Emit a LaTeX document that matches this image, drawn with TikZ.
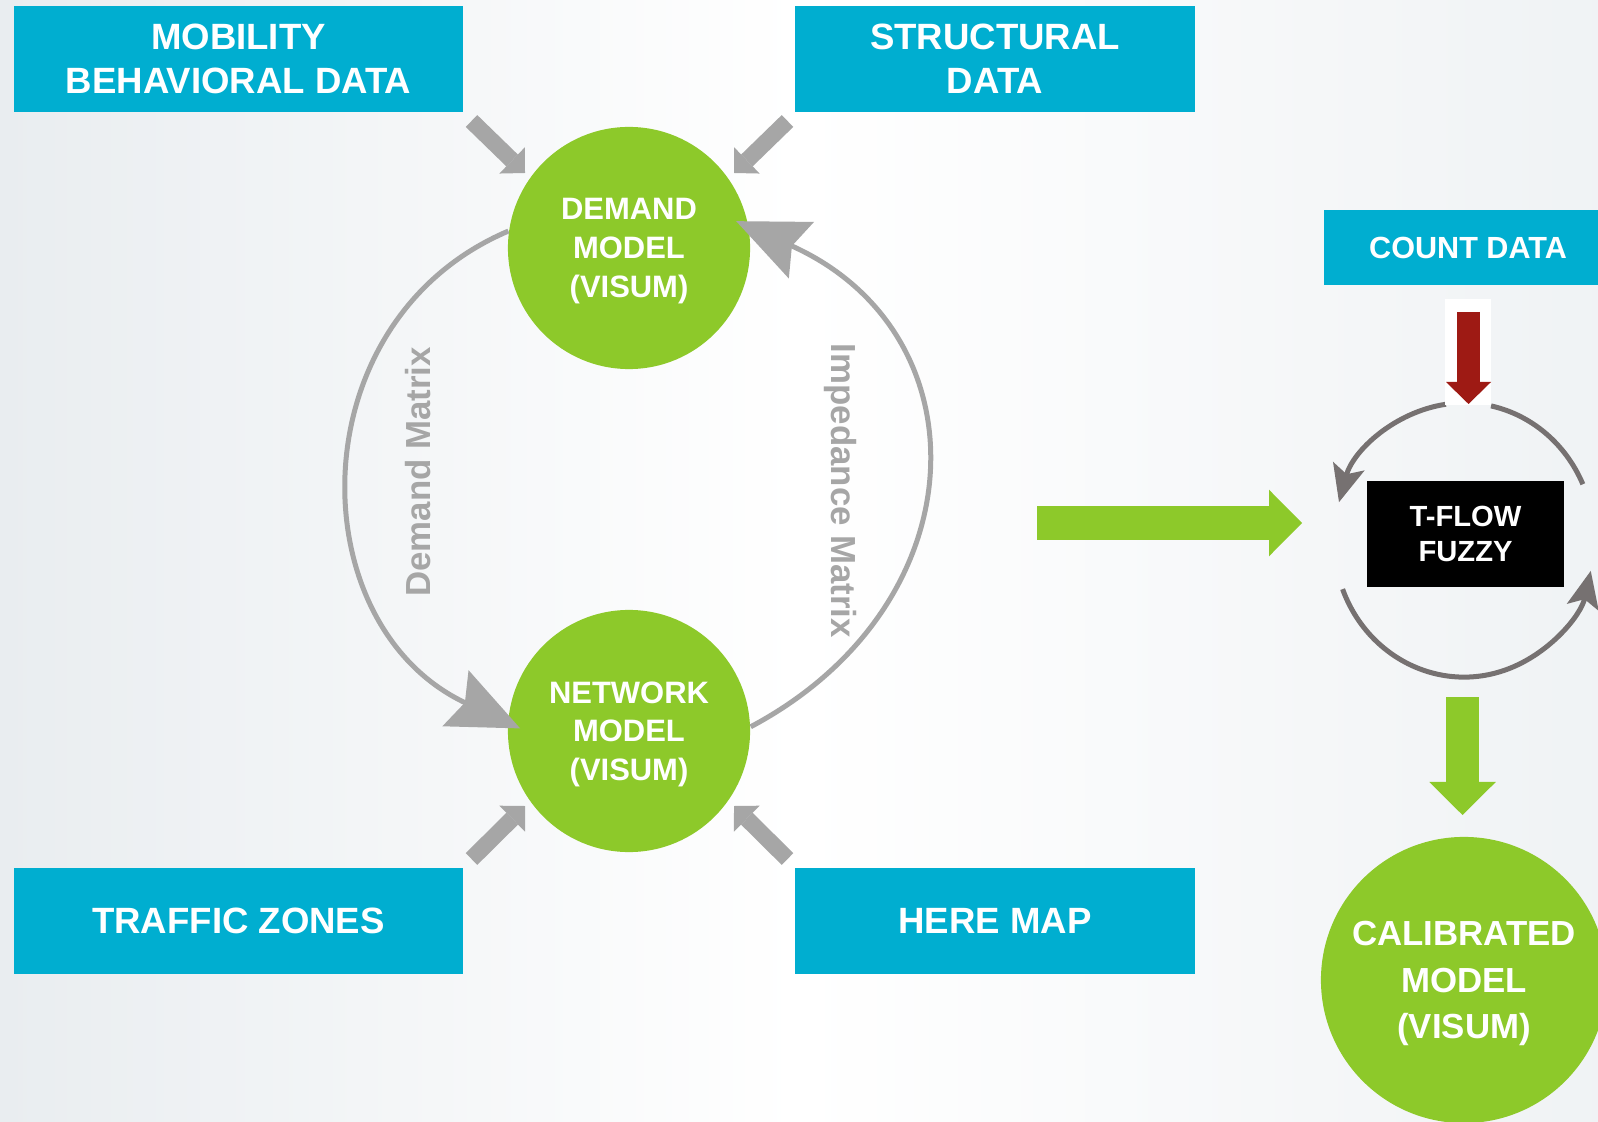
\documentclass[tikz,border=0pt]{standalone}
\usepackage{fontspec}
\setmainfont{Liberation Sans}
\usetikzlibrary{calc, positioning, arrows.meta, shapes}

\definecolor{srcblue}{RGB}{0,174,208}
\definecolor{mdlgreen}{RGB}{141,201,42}
\definecolor{flowgray}{RGB}{166,166,166}
\definecolor{loopgray}{RGB}{118,113,113}
\definecolor{cntred}{RGB}{158,26,20}
\definecolor{bgside}{RGB}{233,237,240}

\begin{document}
\begin{tikzpicture}[x=0.01cm, y=0.01cm,
  src/.style={fill=srcblue, text=white, inner sep=0pt, align=center, minimum width=4.49cm, minimum height=1.06cm, font=\fontsize{10.4}{12.4}\selectfont\bfseries},
  mdl/.style={circle, fill=mdlgreen, text=white, inner sep=0pt, align=center, text depth=-0.2pt, minimum size=2.42cm, font=\fontsize{8.8}{11}\selectfont\bfseries},
  engine/.style={fill=black, text=white, inner sep=0pt, align=center, minimum width=1.97cm, minimum height=1.06cm, font=\fontsize{8.3}{9.9}\selectfont\bfseries},
  lbl/.style={text=flowgray, inner sep=0pt, font=\fontsize{9.9}{12}\selectfont\bfseries},
  feed/.style={draw=flowgray, line width=0.165cm, -{Triangle[length=0.18cm, width=0.365cm, line width=0pt]}},
  flow/.style={draw=flowgray, line width=0.05cm, shorten >=-0.14cm, -{Stealth[length=0.71cm, width=0.61cm, inset=0.1cm]}},
  cycarc/.style={draw=loopgray, line width=0.05cm},
  cyctip/.style={-{Stealth[length=0.37cm, width=0.32cm, inset=0.08cm]}},
  push/.style={draw=mdlgreen, line width=0.335cm, -{Triangle[length=0.33cm, width=0.665cm, line width=0pt]}},
  cntarrow/.style={draw=cntred, line width=0.23cm, -{Triangle[length=0.22cm, width=0.45cm, line width=0pt]}}]

  \useasboundingbox (0,0) rectangle (1598,-1122);
  \clip (0,0) rectangle (1598,-1122);
  \shade[left color=bgside, right color=bgside!70, middle color=white] (0,0) rectangle (1598,-1122);

  \node[src] (mob) at (238.5,-59) {MOBILITY\\BEHAVIORAL DATA};
  \node[src, minimum width=4.0cm] (struct) at (995,-59) {STRUCTURAL\\DATA};
  \node[src] (zones) at (238.5,-921) {TRAFFIC ZONES};
  \node[src, minimum width=4.0cm] (here) at (995,-921) {HERE MAP};
  \node[src, minimum width=2.88cm, minimum height=0.75cm, font=\fontsize{8.7}{10.4}\selectfont\bfseries] (count) at (1468,-247.5) {COUNT DATA};

  \node[mdl] (dem) at (629,-248) {DEMAND\\MODEL\\(VISUM)};
  \node[mdl] (net) at (629,-731) {NETWORK\\MODEL\\(VISUM)};
  \node[mdl, minimum size=2.86cm, text depth=-0.8pt, font=\fontsize{9.9}{13.2}\selectfont\bfseries] (cal) at (1464,-980) {CALIBRATED\\MODEL\\(VISUM)};

  \draw[flow] (dem.172) to[out=203, in=155, distance=2.3cm] (net.176);
  \draw[flow] (net.2) to[out=28, in=336, distance=2.6cm] (dem.10);

  \node[lbl, rotate=90] (dmx) at (418,-472) {Demand Matrix};
  \node[lbl, rotate=-90] (imx) at (840,-491) {Impedance Matrix};

  \coordinate (mobtail) at (471.5,-121);
  \coordinate (mobtip) at (525,-173);
  \coordinate (strtail) at (787.5,-121);
  \coordinate (strtip) at (734,-173);
  \coordinate (zontail) at (471.5,-859);
  \coordinate (zontip) at (525,-806);
  \coordinate (heretail) at (787.5,-859);
  \coordinate (heretip) at (734,-806);
  \draw[feed] (mobtail) -- (mobtip);
  \draw[feed] (strtail) -- (strtip);
  \draw[feed] (zontail) -- (zontip);
  \draw[feed] (heretail) -- (heretip);

  \coordinate (gostart) at (1037,-523);
  \coordinate (goend) at (1302,-523);
  \draw[push] (gostart) -- (goend);

  \coordinate (loopc) at (1464,-540);
  \draw[cycarc, cyctip] ($(loopc)+(98:1.3cm and 1.37cm)$) arc[start angle=98, end angle=164, x radius=1.3cm, y radius=1.37cm];
  \draw[cycarc] ($(loopc)+(78:1.3cm and 1.37cm)$) arc[start angle=78, end angle=24, x radius=1.3cm, y radius=1.37cm];
  \draw[cycarc, cyctip] ($(loopc)+(201:1.3cm and 1.37cm)$) arc[start angle=201, end angle=347, x radius=1.3cm, y radius=1.37cm];

  \fill[white] (1445,-299) rectangle (1491,-405);
  \coordinate (redstart) at (1468.5,-312);
  \coordinate (redend) at (1468.5,-404);
  \draw[cntarrow] (redstart) -- (redend);

  \node[engine] (tflow) at (1465.5,-534) {T-FLOW\\FUZZY};

  \coordinate (downstart) at (1462.5,-697);
  \coordinate (downend) at (1462.5,-815);
  \draw[push] (downstart) -- (downend);
\end{tikzpicture}
\end{document}
